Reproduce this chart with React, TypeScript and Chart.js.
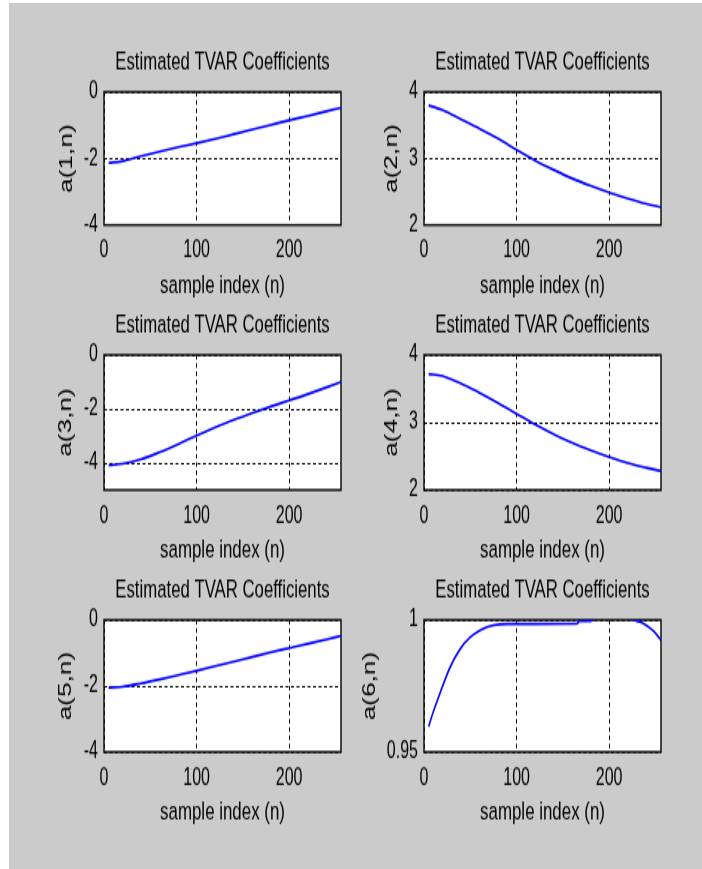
import React, { useEffect, useRef } from "react";
import { Chart, registerables } from "chart.js";

Chart.register(...registerables);

// Sample positions (n) at which the coefficient tracks are given
const sampleIndex = [5, 20, 40, 60, 80, 100, 120, 140, 160, 180, 200, 220, 240, 256];
const coef1 = [-2.13, -2.08, -1.93, -1.79, -1.66, -1.54, -1.41, -1.27, -1.13, -0.99, -0.85, -0.72, -0.58, -0.47];
const coef2 = [3.8, 3.73, 3.59, 3.45, 3.3, 3.13, 2.97, 2.83, 2.7, 2.59, 2.49, 2.4, 2.32, 2.27];
const coef3 = [-4.08, -4.03, -3.86, -3.6, -3.3, -2.98, -2.68, -2.4, -2.15, -1.91, -1.68, -1.45, -1.2, -1.0];
const coef4 = [3.72, 3.69, 3.58, 3.44, 3.29, 3.13, 2.97, 2.83, 2.7, 2.59, 2.49, 2.4, 2.33, 2.28];
const coef5 = [-2.05, -2.02, -1.92, -1.8, -1.67, -1.54, -1.4, -1.26, -1.12, -0.98, -0.85, -0.72, -0.59, -0.48];
// The sixth coefficient moves quickly at the start, so it has its own, denser sample grid
const sampleIndex6 = [5, 10, 17, 28, 39, 50, 61, 75, 90, 120, 165, 168, 180, 185, 222, 230, 238, 248, 256];
const coef6 = [0.9596, 0.9652, 0.972, 0.982, 0.989, 0.9935, 0.9962, 0.998, 0.9985, 0.9985, 0.9986, 0.9996, 0.9996, 1.0004, 1.0004, 0.9996, 0.9985, 0.9958, 0.9924];

// Axis ticks
const xTicks = [0, 100, 200];
const xMax = 256;
const yTicksWide = [-4, -2, 0];
const yTicksUnit = [2, 3, 4];
const yTicksNear1 = [0.95, 1];

const titleText = "Estimated TVAR Coefficients";
const xAxisLabel = "sample index (n)";

// Figure geometry (page pixels); each axes is drawn in a canvas that is stretched vertically
const STRETCH = 1.5;
const FIG_LEFT = 9;
const FIG_TOP = 3;
const AXIS_W = 66;
const RIGHT_PAD = 12;
const PLOT_W = 237;
const TOP_H = 40;
const FONT = "'Liberation Sans', Arial, Helvetica, sans-serif";
const Y_LABEL_SIZE = 17.5;

type PanelSpec = {
  label: string;
  xs: number[];
  ys: number[];
  yMin: number;
  yMax: number;
  yTicks: number[];
  boxLeft: number;
  boxTop: number;
  boxHeight: number;
  labelGap: number;
};

const panels: PanelSpec[] = [
  { label: "a(1,n)", xs: sampleIndex, ys: coef1, yMin: -4, yMax: 0, yTicks: yTicksWide, boxLeft: 104, boxTop: 92, boxHeight: 133, labelGap: 37 },
  { label: "a(2,n)", xs: sampleIndex, ys: coef2, yMin: 2, yMax: 4, yTicks: yTicksUnit, boxLeft: 424, boxTop: 92, boxHeight: 133, labelGap: 31.5 },
  { label: "a(3,n)", xs: sampleIndex, ys: coef3, yMin: -5, yMax: 0, yTicks: yTicksWide, boxLeft: 104, boxTop: 355, boxHeight: 135, labelGap: 38 },
  { label: "a(4,n)", xs: sampleIndex, ys: coef4, yMin: 2, yMax: 4, yTicks: yTicksUnit, boxLeft: 424, boxTop: 355, boxHeight: 135, labelGap: 32 },
  { label: "a(5,n)", xs: sampleIndex, ys: coef5, yMin: -4, yMax: 0, yTicks: yTicksWide, boxLeft: 104, boxTop: 620, boxHeight: 132, labelGap: 38 },
  { label: "a(6,n)", xs: sampleIndex6, ys: coef6, yMin: 0.95, yMax: 1, yTicks: yTicksNear1, boxLeft: 424, boxTop: 620, boxHeight: 132, labelGap: 54 },
];

// White axes background and black box frame
const axesBox = {
  id: "axesBox",
  beforeDraw(chart: any) {
    const { ctx, chartArea } = chart;
    ctx.save();
    ctx.fillStyle = "#ffffff";
    ctx.fillRect(chartArea.left, chartArea.top, chartArea.right - chartArea.left, chartArea.bottom - chartArea.top);
    ctx.restore();
  },
  beforeDatasetsDraw(chart: any) {
    const { ctx, chartArea } = chart;
    ctx.save();
    ctx.strokeStyle = "#111111";
    ctx.lineWidth = 1.5;
    ctx.setLineDash([]);
    ctx.strokeRect(chartArea.left, chartArea.top, chartArea.right - chartArea.left, chartArea.bottom - chartArea.top);
    ctx.restore();
  },
};

function Panel({ spec }: { spec: PanelSpec }) {
  const ref = useRef<HTMLCanvasElement>(null);
  const plotH = spec.boxHeight / STRETCH;
  const canvasH = Math.round(TOP_H + plotH + 50.14);
  const xAxisH = canvasH - TOP_H - plotH;
  const canvasW = AXIS_W + PLOT_W + RIGHT_PAD;
  const yTitleLine = Y_LABEL_SIZE * 1.2;

  useEffect(() => {
    if (!ref.current) return;
    const chart = new Chart(ref.current, {
      type: "line",
      data: {
        datasets: [
          {
            data: spec.xs.map((x, i) => ({ x, y: spec.ys[i] })),
            borderColor: "#0000ff",
            borderWidth: 1.6,
            pointRadius: 0,
            cubicInterpolationMode: "monotone",
            fill: false,
          },
        ],
      },
      options: {
        animation: false,
        responsive: false,
        events: [],
        layout: { padding: { left: 0, right: RIGHT_PAD, top: 0, bottom: 0 } },
        plugins: {
          legend: { display: false },
          tooltip: { enabled: false },
          title: {
            display: true,
            text: titleText,
            fullSize: false,
            color: "#000000",
            font: { family: FONT, size: 16.75, weight: "normal" },
            padding: { top: 9.9, bottom: 10.0 },
          },
        },
        scales: {
          x: {
            type: "linear",
            min: 0,
            max: xMax,
            afterBuildTicks: (s: any) => {
              s.ticks = xTicks.map((v) => ({ value: v }));
            },
            afterFit: (s: any) => {
              s.height = xAxisH;
            },
            ticks: {
              color: "#000000",
              font: { family: FONT, size: 16 },
              padding: 7.5,
              maxRotation: 0,
              callback: (v: any) => String(v),
            },
            grid: { color: "#000000", lineWidth: 1, drawTicks: false, tickLength: 0 },
            border: { display: false, dash: [3, 2.5] },
            title: {
              display: true,
              text: xAxisLabel,
              color: "#000000",
              font: { family: FONT, size: 16.9 },
              padding: { top: 0, bottom: 0 },
            },
          },
          y: {
            type: "linear",
            min: spec.yMin,
            max: spec.yMax,
            afterBuildTicks: (s: any) => {
              s.ticks = spec.yTicks.map((v) => ({ value: v }));
            },
            afterFit: (s: any) => {
              s.width = AXIS_W;
            },
            ticks: {
              color: "#000000",
              font: { family: FONT, size: 16 },
              padding: 6,
              callback: (v: any) => String(v),
            },
            grid: { color: "#000000", lineWidth: 1, drawTicks: false, tickLength: 0 },
            border: { display: false, dash: [3, 2.5] },
            title: {
              display: true,
              text: spec.label,
              color: "#000000",
              font: { family: FONT, size: Y_LABEL_SIZE },
              padding: { top: Math.max(0, AXIS_W - spec.labelGap - yTitleLine / 2), bottom: 0 },
            },
          },
        },
      },
      plugins: [axesBox],
    } as any);
    return () => chart.destroy();
  }, [spec]);

  return (
    <div
      style={{
        position: "absolute",
        left: spec.boxLeft - AXIS_W - FIG_LEFT,
        top: spec.boxTop - TOP_H * STRETCH - FIG_TOP,
        width: canvasW,
        height: canvasH,
        transform: `scaleY(${STRETCH})`,
        transformOrigin: "0 0",
      }}
    >
      <canvas ref={ref} width={canvasW} height={canvasH} style={{ display: "block" }} />
    </div>
  );
}

export default function App() {
  return (
    <div
      style={{
        position: "absolute",
        left: FIG_LEFT,
        top: FIG_TOP,
        width: 702 - FIG_LEFT,
        height: 869 - FIG_TOP,
        background: "#cbcbcb",
        overflow: "hidden",
      }}
    >
      {panels.map((p) => (
        <Panel key={p.label} spec={p} />
      ))}
    </div>
  );
}
